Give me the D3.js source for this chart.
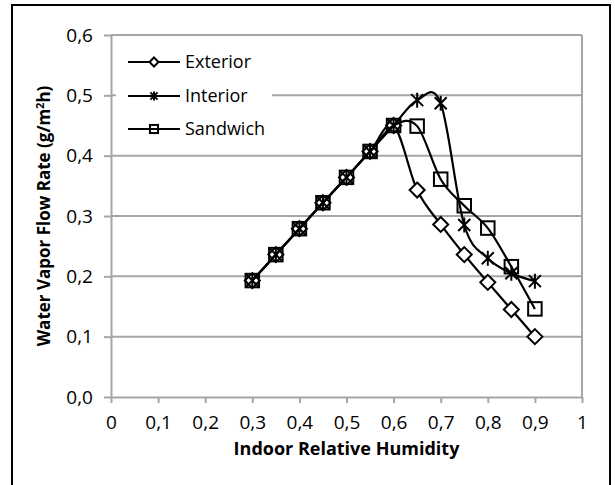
<!DOCTYPE html>
<html lang="en">
<head>
    <meta charset="UTF-8">
    <title>Water Vapor Flow Rate vs Indoor Relative Humidity</title>
    <script src="https://d3js.org/d3.v7.min.js"></script>
    <style>
        body { margin: 0; background: #fff; }
        text { font-family: "Open Sans", sans-serif; fill: #000; }
        .grid line { stroke: #a6a6a6; stroke-width: 2; }
        .axis path, .axis line { stroke: #a6a6a6; stroke-width: 2; }
        .axis text { font-size: 19px; }
    </style>
</head>
<body>
    <svg width="615" height="485"></svg>
    <script>
        const width = 615;
        const height = 485;

        // data
        const humidity = [0.3, 0.35, 0.4, 0.45, 0.5, 0.55, 0.6, 0.65, 0.7, 0.75, 0.8, 0.85, 0.9];
        const exterior = [0.193, 0.236, 0.279, 0.322, 0.364, 0.407, 0.45, 0.343, 0.286, 0.236, 0.19, 0.145, 0.1];
        const interior = [0.193, 0.236, 0.279, 0.322, 0.364, 0.407, 0.45, 0.492, 0.487, 0.285, 0.23, 0.205, 0.192];
        const sandwich = [0.193, 0.236, 0.279, 0.322, 0.364, 0.407, 0.45, 0.449, 0.361, 0.317, 0.28, 0.216, 0.146];
        const seriesNames = ["Exterior", "Interior", "Sandwich"];
        const markerTypes = ["diamond", "star", "square"];
        const xTicks = [0, 0.1, 0.2, 0.3, 0.4, 0.5, 0.6, 0.7, 0.8, 0.9, 1];
        const yTicks = [0, 0.1, 0.2, 0.3, 0.4, 0.5, 0.6];

        const series = [exterior, interior, sandwich].map((vals, i) => ({
            name: seriesNames[i],
            marker: markerTypes[i],
            points: humidity.map((h, j) => ({ x: h, y: vals[j] }))
        }));

        const plot = { left: 111, right: 582, top: 35, bottom: 397 };

        const x = d3.scaleLinear().domain([0, 1]).range([plot.left, plot.right]);
        const y = d3.scaleLinear().domain([0, 0.6]).range([plot.bottom, plot.top]);

        const fmt = d => d === 0 || d === 1 ? String(d) : d3.format(".1f")(d).replace(".", ",");
        const fmtY = d => d3.format(".1f")(d).replace(".", ",");

        const svg = d3.select("svg");

        // outer frame
        svg.append("rect")
            .attr("x", 12).attr("y", 5)
            .attr("width", 598).attr("height", 495)
            .attr("fill", "none")
            .attr("stroke", "#000")
            .attr("stroke-width", 2);

        // horizontal gridlines
        svg.append("g").attr("class", "grid")
            .selectAll("line")
            .data(yTicks.filter(d => d > 0))
            .enter().append("line")
            .attr("x1", plot.left).attr("x2", plot.right)
            .attr("y1", d => y(d)).attr("y2", d => y(d));

        // right border of plot area
        svg.append("line")
            .attr("x1", plot.right).attr("x2", plot.right)
            .attr("y1", plot.top).attr("y2", plot.bottom)
            .attr("stroke", "#a6a6a6").attr("stroke-width", 2);

        // axes
        svg.append("g").attr("class", "axis")
            .attr("transform", `translate(0,${plot.bottom})`)
            .call(d3.axisBottom(x).tickValues(xTicks).tickFormat(fmt).tickSize(6).tickSizeOuter(0).tickPadding(13));
        svg.append("g").attr("class", "axis")
            .attr("transform", `translate(${plot.left},0)`)
            .call(d3.axisLeft(y).tickValues(yTicks).tickFormat(fmtY).tickSize(7).tickSizeOuter(0).tickPadding(11));

        // axis titles
        svg.append("text")
            .attr("x", (plot.left + plot.right) / 2)
            .attr("y", 455)
            .attr("text-anchor", "middle")
            .style("font-size", "18px")
            .style("font-weight", "bold")
            .text("Indoor Relative Humidity");

        const yTitle = svg.append("text")
            .attr("transform", `translate(50,${(plot.top + plot.bottom) / 2}) rotate(-90)`)
            .attr("text-anchor", "middle")
            .style("font-size", "17px")
            .style("font-weight", "bold");
        yTitle.append("tspan").text("Water Vapor Flow Rate (g/m");
        yTitle.append("tspan").attr("dy", -6).style("font-size", "11px").text("2");
        yTitle.append("tspan").attr("dy", 6).text("h)");

        // marker drawing
        function drawMarker(g, type, s) {
            if (type === "diamond") {
                g.append("path")
                    .attr("d", `M0,${-s}L${s},0L0,${s}L${-s},0Z`)
                    .attr("fill", "#fff").attr("stroke", "#000").attr("stroke-width", 2);
            } else if (type === "square") {
                const h = s * 0.9;
                g.append("rect")
                    .attr("x", -h).attr("y", -h).attr("width", 2 * h).attr("height", 2 * h)
                    .attr("fill", "none").attr("stroke", "#000").attr("stroke-width", 2);
            } else {
                const h = s * 0.8;
                g.append("path")
                    .attr("d", `M${-h},${-h}L${h},${h}M${-h},${h}L${h},${-h}M0,${-s}L0,${s}`)
                    .attr("fill", "none").attr("stroke", "#000").attr("stroke-width", 2);
            }
        }

        const line = d3.line()
            .x(d => x(d.x))
            .y(d => y(d.y))
            .curve(d3.curveCardinal.tension(0));

        series.forEach(s => {
            const g = svg.append("g");
            g.append("path")
                .datum(s.points)
                .attr("d", line)
                .attr("fill", "none")
                .attr("stroke", "#000")
                .attr("stroke-width", 2.2);
            g.selectAll("g.marker")
                .data(s.points)
                .enter().append("g")
                .attr("class", "marker")
                .attr("transform", d => `translate(${x(d.x)},${y(d.y)})`)
                .each(function () { drawMarker(d3.select(this), s.marker, 7.5); });
        });

        // legend
        const legend = svg.append("g");
        legend.append("rect")
            .attr("x", 116).attr("y", 40)
            .attr("width", 156).attr("height", 110)
            .attr("fill", "#fff");
        const legendY = [62, 96, 129];
        series.forEach((s, i) => {
            const row = legend.append("g").attr("transform", `translate(0,${legendY[i]})`);
            row.append("line")
                .attr("x1", 128).attr("x2", 180)
                .attr("stroke", "#000").attr("stroke-width", 2);
            const m = row.append("g").attr("transform", "translate(154,0)");
            drawMarker(m, s.marker, 4.5);
            row.append("text")
                .attr("x", 185).attr("y", 0)
                .attr("dy", "0.35em")
                .style("font-size", "18px")
                .text(s.name);
        });
    </script>
</body>
</html>
